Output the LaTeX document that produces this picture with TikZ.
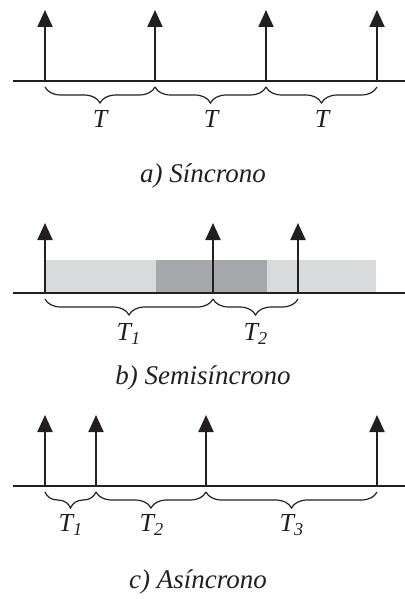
\documentclass[tikz,border=0pt]{standalone}
\usepackage{fontspec}
\setmainfont{Liberation Serif}
\usetikzlibrary{arrows.meta,decorations.pathreplacing,calc}
\definecolor{sigink}{HTML}{231F20}
\definecolor{siglight}{HTML}{D9DADC}
\definecolor{sigdark}{HTML}{A7A8AB}
\tikzset{
  >={Triangle[length=8.5pt,width=7.5pt]},
  axis/.style={draw=sigink,line width=1.25pt},
  pulse/.style={->,draw=sigink,line width=1pt},
  period/.style={decorate,decoration={brace,mirror,amplitude=8pt},
                 draw=sigink,line width=0.6pt},
  perlbl/.style={font=\itshape\fontsize{13}{15}\selectfont,text=sigink,inner sep=0pt},
  caption/.style={font=\itshape\fontsize{13.5}{16}\selectfont,text=sigink,inner sep=0pt},
}

\begin{document}
\begin{tikzpicture}[x=0.5pt,y=-0.5pt]
  \useasboundingbox (0,0) rectangle (405,599);

  % a) synchronous: equal spacing
  \coordinate (a1) at (45,81);  \coordinate (a1t) at (45,10);
  \coordinate (a2) at (155,81); \coordinate (a2t) at (155,10);
  \coordinate (a3) at (266,81); \coordinate (a3t) at (266,10);
  \coordinate (a4) at (377,81); \coordinate (a4t) at (377,10);
  \coordinate (aL) at (13,81);  \coordinate (aR) at (405,81);
  \draw[axis] (aL) -- (aR);
  \draw[pulse] (a1) -- (a1t);
  \draw[pulse] (a2) -- (a2t);
  \draw[pulse] (a3) -- (a3t);
  \draw[pulse] (a4) -- (a4t);
  \draw[period] ($(a1)+(0,6)$) -- ($(a2)+(0,6)$);
  \draw[period] ($(a2)+(0,6)$) -- ($(a3)+(0,6)$);
  \draw[period] ($(a3)+(0,6)$) -- ($(a4)+(0,6)$);
  \node[perlbl] (ta1) at (100,119) {T};
  \node[perlbl] (ta2) at (211,119) {T};
  \node[perlbl] (ta3) at (322,119) {T};
  \node[caption] (capa) at (203,176) {a) Síncrono};

  % b) semisynchronous: shaded windows
  \coordinate (b1) at (45,293);  \coordinate (b1t) at (45,223);
  \coordinate (b2) at (213,293); \coordinate (b2t) at (213,223);
  \coordinate (b3) at (298,293); \coordinate (b3t) at (298,223);
  \coordinate (bL) at (13,293);  \coordinate (bR) at (405,293);
  \fill[siglight] (45,260) rectangle (156,293);
  \fill[sigdark] (156,260) rectangle (267,293);
  \fill[siglight] (267,260) rectangle (376,293);
  \draw[axis] (bL) -- (bR);
  \draw[pulse] (b1) -- (b1t);
  \draw[pulse] (b2) -- (b2t);
  \draw[pulse] (b3) -- (b3t);
  \draw[period] ($(b1)+(0,6)$) -- ($(b2)+(0,6)$);
  \draw[period] ($(b2)+(0,6)$) -- ($(b3)+(0,6)$);
  \node[perlbl] (tb1) at (129,334) {T\textsubscript{1}};
  \node[perlbl] (tb2) at (256,334) {T\textsubscript{2}};
  \node[caption] (capb) at (203,378) {b) Semisíncrono};

  % c) asynchronous: arbitrary spacing
  \coordinate (c1) at (45,486);  \coordinate (c1t) at (45,415);
  \coordinate (c2) at (96,486);  \coordinate (c2t) at (96,415);
  \coordinate (c3) at (206,486); \coordinate (c3t) at (206,415);
  \coordinate (c4) at (377,486); \coordinate (c4t) at (377,415);
  \coordinate (cL) at (13,486);  \coordinate (cR) at (405,486);
  \draw[axis] (cL) -- (cR);
  \draw[pulse] (c1) -- (c1t);
  \draw[pulse] (c2) -- (c2t);
  \draw[pulse] (c3) -- (c3t);
  \draw[pulse] (c4) -- (c4t);
  \draw[period] ($(c1)+(0,6)$) -- ($(c2)+(0,6)$);
  \draw[period] ($(c2)+(0,6)$) -- ($(c3)+(0,6)$);
  \draw[period] ($(c3)+(0,6)$) -- ($(c4)+(0,6)$);
  \node[perlbl] (tc1) at (71,525) {T\textsubscript{1}};
  \node[perlbl] (tc2) at (152,525) {T\textsubscript{2}};
  \node[perlbl] (tc3) at (292,525) {T\textsubscript{3}};
  \node[caption] (capc) at (198,582) {c) Asíncrono};
\end{tikzpicture}
\end{document}
